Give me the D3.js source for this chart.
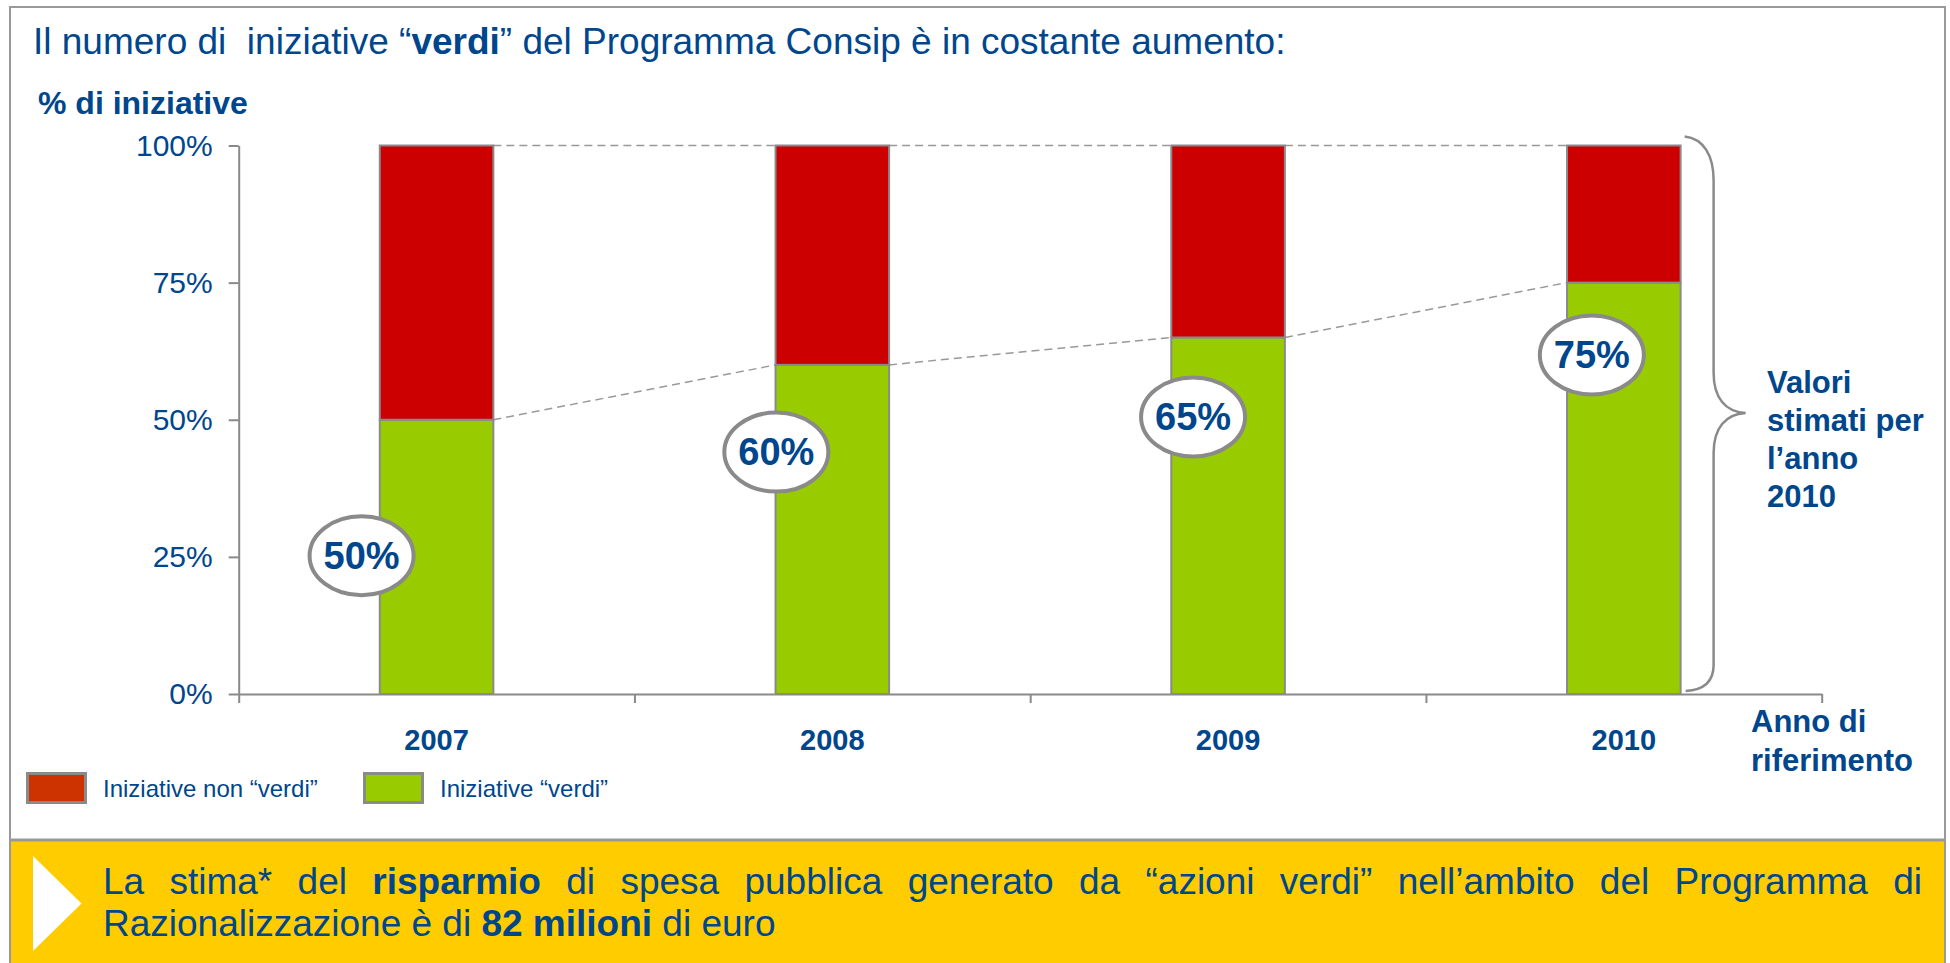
<!DOCTYPE html>
<html>
<head>
<meta charset="utf-8">
<script src="https://cdn.jsdelivr.net/npm/d3@7"></script>
<style>
  body { margin: 0; background: #fff; }
  svg { display: block; font-family: Arial, "Liberation Sans", sans-serif; }
</style>
</head>
<body>
<div id="chart"></div>
<script>
const years = ['2007', '2008', '2009', '2010'];
const verdi = [50, 60, 65, 75];
const nonVerdi = [50, 40, 35, 25];
const yTicks = [0, 25, 50, 75, 100];
const seriesNames = ['Iniziative non “verdi”', 'Iniziative “verdi”'];

const width = 1950;
const height = 963;
const blue = '#00468c';
const grey = '#8a8a8a';

// bubble placement: pixel offset from band centre, value level of centre
const bubbleAnchor = [
  {dx: -75, v: 25.2},
  {dx: -56, v: 44.1},
  {dx: -35, v: 50.5},
  {dx: -32, v: 61.8}
];

const rows = years.map((y, i) => ({year: y, verdi: verdi[i], nonVerdi: nonVerdi[i]}));
const stacked = d3.stack().keys(['verdi', 'nonVerdi'])(rows);

const x0 = 238.7, x1 = 1821.7;

//Scales
const xScale = d3.scaleBand()
  .domain(years)
  .range([x0, x1])
  .paddingInner(0.713)
  .paddingOuter(0.3565);

const xEdges = d3.scaleLinear()
  .domain([0, years.length])
  .range([x0, x1]);

const yScale = d3.scaleLinear()
  .domain([0, 100])
  .range([694, 145.5]);

const colors = {verdi: '#99cc00', nonVerdi: '#cc0000'};

//Init chart
const chart = d3.select('#chart')
  .append('svg')
  .attr('width', width)
  .attr('height', height);

chart.append('rect')
  .attr('width', width).attr('height', height)
  .attr('fill', '#fff');

//Frame + yellow box
chart.append('rect')
  .attr('x', 10).attr('y', 840)
  .attr('width', 1935).attr('height', 130)
  .attr('fill', '#ffcc00');
chart.append('rect')
  .attr('x', 10).attr('y', 7)
  .attr('width', 1935).attr('height', 970)
  .attr('fill', 'none')
  .attr('stroke', '#999').attr('stroke-width', 2);
chart.append('line')
  .attr('x1', 10).attr('x2', 1945)
  .attr('y1', 840).attr('y2', 840)
  .attr('stroke', '#999').attr('stroke-width', 3);

//Title
const title = chart.append('text')
  .attr('x', 33).attr('y', 54)
  .attr('fill', blue)
  .style('font-size', '37px')
  .style('white-space', 'pre');
title.append('tspan').text('Il numero di  iniziative “');
title.append('tspan').attr('font-weight', 'bold').text('verdi');
title.append('tspan').text('” del Programma Consip è in costante aumento:');

chart.append('text')
  .attr('x', 38).attr('y', 114)
  .attr('fill', blue)
  .attr('font-weight', 'bold')
  .style('font-size', '32px')
  .text('% di iniziative');

//Dashed connectors
const bw = xScale.bandwidth();
const connectors = [];
for (let i = 0; i < years.length - 1; i++) {
  connectors.push({x1: xScale(years[i]) + bw, x2: xScale(years[i + 1]), y1: 100, y2: 100});
  connectors.push({x1: xScale(years[i]) + bw, x2: xScale(years[i + 1]), y1: verdi[i], y2: verdi[i + 1]});
}
chart.append('g')
  .selectAll('line')
  .data(connectors)
  .enter()
  .append('line')
  .attr('x1', d => d.x1).attr('x2', d => d.x2)
  .attr('y1', d => yScale(d.y1)).attr('y2', d => yScale(d.y2))
  .attr('stroke', '#999')
  .attr('stroke-width', 1.5)
  .attr('stroke-dasharray', '8,5');

//Bars
chart.append('g')
  .selectAll('g')
  .data(stacked)
  .enter()
  .append('g')
  .attr('fill', d => colors[d.key])
  .selectAll('rect')
  .data(d => d)
  .enter()
  .append('rect')
  .attr('x', d => xScale(d.data.year))
  .attr('width', bw)
  .attr('y', d => yScale(d[1]))
  .attr('height', d => yScale(d[0]) - yScale(d[1]))
  .attr('stroke', grey)
  .attr('stroke-width', 2);

//Axes
const yAxis = d3.axisLeft(yScale)
  .tickValues(yTicks)
  .tickFormat(d => d + '%')
  .tickSizeInner(10)
  .tickSizeOuter(0)
  .tickPadding(16);
const yG = chart.append('g')
  .attr('transform', `translate(${x0}, 0)`)
  .call(yAxis);

const xAxis = d3.axisBottom(xEdges)
  .tickValues(d3.range(years.length + 1))
  .tickFormat('')
  .tickSizeInner(9)
  .tickSizeOuter(0);
const xG = chart.append('g')
  .attr('transform', `translate(0, ${yScale(0)})`)
  .call(xAxis);

[yG, xG].forEach(g => {
  g.selectAll('path, line').attr('stroke', grey).attr('stroke-width', 2);
  g.selectAll('text')
    .attr('fill', blue)
    .style('font-size', '30px')
    .style('font-family', 'Arial, "Liberation Sans", sans-serif');
});

chart.append('g')
  .selectAll('text')
  .data(years)
  .enter()
  .append('text')
  .attr('x', d => xScale(d) + bw / 2)
  .attr('y', 750)
  .attr('text-anchor', 'middle')
  .attr('fill', blue)
  .attr('font-weight', 'bold')
  .style('font-size', '29px')
  .text(d => d);

//Bubbles
const bubbles = chart.append('g')
  .selectAll('g')
  .data(years)
  .enter()
  .append('g')
  .attr('transform', (d, i) => `translate(${xScale(d) + bw / 2 + bubbleAnchor[i].dx}, ${yScale(bubbleAnchor[i].v)})`);
bubbles.append('ellipse')
  .attr('rx', 52).attr('ry', 39.5)
  .attr('fill', '#fff')
  .attr('stroke', grey)
  .attr('stroke-width', 4);
bubbles.append('text')
  .attr('text-anchor', 'middle')
  .attr('dy', '0.35em')
  .attr('fill', blue)
  .attr('font-weight', 'bold')
  .style('font-size', '38px')
  .text((d, i) => verdi[i] + '%');

//Brace for estimated values
const bx = xScale(years[3]) + bw;
const yTop = yScale(100) - 9, yBot = yScale(0) - 3;
const yTip = 413;
const brace = d3.path();
brace.moveTo(bx + 4, yTop);
brace.bezierCurveTo(bx + 23, yTop + 2, bx + 33, yTop + 19, bx + 33, yTop + 44);
brace.lineTo(bx + 33, yTip - 40);
brace.bezierCurveTo(bx + 33, yTip - 15, bx + 45, yTip - 1, bx + 65, yTip);
brace.bezierCurveTo(bx + 45, yTip + 1, bx + 33, yTip + 15, bx + 33, yTip + 40);
brace.lineTo(bx + 33, yBot - 26);
brace.bezierCurveTo(bx + 33, yBot - 9, bx + 23, yBot - 1, bx + 5, yBot);
chart.append('path')
  .attr('d', brace.toString())
  .attr('fill', 'none')
  .attr('stroke', grey)
  .attr('stroke-width', 2.5);

const noteLines = ['Valori', 'stimati per', 'l’anno', '2010'];
chart.append('g')
  .selectAll('text')
  .data(noteLines)
  .enter()
  .append('text')
  .attr('x', 1767)
  .attr('y', (d, i) => 392.5 + i * 38.3)
  .attr('fill', blue)
  .attr('font-weight', 'bold')
  .style('font-size', '31px')
  .text(d => d);

chart.append('g')
  .selectAll('text')
  .data(['Anno di', 'riferimento'])
  .enter()
  .append('text')
  .attr('x', 1751)
  .attr('y', (d, i) => 732 + i * 39)
  .attr('fill', blue)
  .attr('font-weight', 'bold')
  .style('font-size', '31px')
  .text(d => d);

//Legend
const legendColors = ['#cc3300', '#99cc00'];
const legendX = [26, 363];
const legend = chart.append('g')
  .selectAll('g')
  .data(seriesNames)
  .enter()
  .append('g')
  .attr('transform', (d, i) => `translate(${legendX[i]}, 772)`);
legend.append('rect')
  .attr('x', 1.5).attr('y', 1.5)
  .attr('width', 58).attr('height', 29)
  .attr('fill', (d, i) => legendColors[i])
  .attr('stroke', grey)
  .attr('stroke-width', 3);
legend.append('text')
  .attr('x', 77).attr('y', 25)
  .attr('fill', blue)
  .style('font-size', '24px')
  .text(d => d);

//Yellow box text
chart.append('path')
  .attr('d', 'M33,856 L81.5,903.5 L33,951 Z')
  .attr('fill', '#fff');

const line1 = [
  ['La', false], ['stima*', false], ['del', false], ['risparmio', true], ['di', false],
  ['spesa', false], ['pubblica', false], ['generato', false], ['da', false], ['“azioni', false],
  ['verdi”', false], ['nell’ambito', false], ['del', false], ['Programma', false], ['di', false]
];
const textLeft = 103, textRight = 1922;
const words = chart.append('g')
  .attr('fill', blue)
  .style('font-size', '37px');
const wNodes = words.selectAll('text')
  .data(line1)
  .enter()
  .append('text')
  .attr('y', 894)
  .attr('font-weight', d => d[1] ? 'bold' : 'normal')
  .text(d => d[0]);
const widths = [];
wNodes.each(function () { widths.push(this.getComputedTextLength()); });
const gap = (textRight - textLeft - d3.sum(widths)) / (line1.length - 1);
let cx = textLeft;
wNodes.attr('x', (d, i) => { const p = cx; cx += widths[i] + gap; return p; });

const line2 = words.append('text')
  .attr('x', textLeft).attr('y', 936)
  .style('white-space', 'pre');
line2.append('tspan').text('Razionalizzazione è di ');
line2.append('tspan').attr('font-weight', 'bold').text('82 milioni');
line2.append('tspan').text(' di euro');
</script>
</body>
</html>
